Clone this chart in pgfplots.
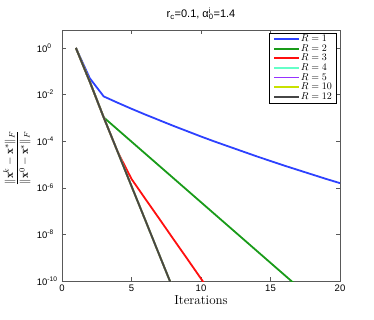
\documentclass[border=0pt]{standalone}
\usepackage{fontspec}
\usepackage{pgfplots}
\pgfplotsset{compat=1.18}
\newfontfamily\arial{Liberation Sans}
\definecolor{cR1}{RGB}{45,65,255}
\definecolor{cR2}{RGB}{25,155,25}
\definecolor{cR3}{RGB}{255,15,15}
\definecolor{cR4}{RGB}{100,255,200}
\definecolor{cR5}{RGB}{150,50,255}
\definecolor{cR10}{RGB}{200,225,0}
\definecolor{cR12}{RGB}{70,70,70}
\begin{document}
\begin{tikzpicture}
\begin{axis}[
  scale only axis, width=278pt, height=251pt,
  ymode=log, xmin=0, xmax=20, ymin=1e-10, ymax=5.89,
  xtick={0,5,10,15,20},
  xticklabels={0,5,10,15,20},
  ytick={1,1e-2,1e-4,1e-6,1e-8,1e-10},
  yticklabels={10\rlap{\textsuperscript{0}},10\rlap{\textsuperscript{-2}},10\rlap{\textsuperscript{-4}},10\rlap{\textsuperscript{-6}},10\rlap{\textsuperscript{-8}},10\rlap{\textsuperscript{-10}}},
  minor ytick={}, yminorticks=false,
  tick label style={font=\arial\fontsize{9.5}{11}\selectfont},
  yticklabel style={anchor=east, xshift=-11pt},
  tick align=inside, tickpos=both, major tick length=4pt,
  axis line style={black!65, line width=0.8pt},
  every tick/.style={black!65},
  xlabel={Iterations},
  xlabel style={font=\fontsize{13}{15}\selectfont, yshift=3pt},
  ylabel={$\displaystyle\frac{\|\mathbf{x}^k-\mathbf{x}^*\|_F}{\|\mathbf{x}^0-\mathbf{x}^*\|_F}$},
  every axis y label/.style={at={(axis description cs:-0.162,0.49)}, rotate=90, anchor=center, font=\fontsize{11}{13}\selectfont},
  title={\arial r\textsubscript{c}=0.1, α\rlap{\textsuperscript{i}}\textsubscript{0}=1.4},
  title style={font=\fontsize{11}{12}\selectfont, yshift=1pt},
  legend style={font=\fontsize{10}{10}\selectfont, draw=black, line width=0.6pt,
    inner xsep=4pt, inner ysep=1.5pt, row sep=0.3pt, at={(0.988,0.99)}, anchor=north east,
    nodes={inner sep=0.5pt}},
  legend cell align=left,
  legend image code/.code={\draw[#1, line width=1.8pt] (0pt,0pt) -- (25pt,0pt);},
  every axis plot/.append style={line width=1.8pt},
]
\addplot[cR1] coordinates {(1,1) (2,0.0501) (3,0.008318) (4,0.004467) (5,0.002455) (6,0.001380) (7,7.943e-4) (8,4.571e-4) (9,2.692e-4) (10,1.585e-4) (11,9.550e-5) (12,5.888e-5) (13,3.631e-5) (14,2.239e-5) (15,1.413e-5) (16,8.913e-6) (17,5.754e-6) (18,3.715e-6) (19,2.399e-6) (20,1.585e-6)};
\addlegendentry{$R=1$}
\addplot[cR2] coordinates {(1,1) (2,0.03548) (3,1.047e-3) (4,3.162e-4) (5,9.550e-5) (6,2.884e-5) (7,8.710e-6) (8,2.630e-6) (9,7.943e-7) (10,2.399e-7) (11,7.244e-8) (12,2.188e-8) (13,6.607e-9) (14,1.995e-9) (15,6.026e-10) (16,1.820e-10) (17,5.495e-11)};
\addlegendentry{$R=2$}
\addplot[cR3] coordinates {(1,1) (2,0.03548) (3,1.047e-3) (4,3.548e-5) (5,2.399e-6) (6,3.311e-7) (7,4.677e-8) (8,6.457e-9) (9,9.120e-10) (10,1.259e-10) (11,1.778e-11)};
\addlegendentry{$R=3$}
\addplot[cR4] coordinates {(1,1) (2,0.03548) (3,1.047e-3) (4,3.548e-5) (5,1.175e-6) (6,3.981e-8) (7,1.318e-9) (8,4.467e-11)};
\addlegendentry{$R=4$}
\addplot[cR5] coordinates {(1,1) (2,0.03548) (3,1.047e-3) (4,3.548e-5) (5,1.175e-6) (6,3.981e-8) (7,1.318e-9) (8,4.467e-11)};
\addlegendentry{$R=5$}
\addplot[cR10] coordinates {(1,1) (2,0.03548) (3,1.047e-3) (4,3.548e-5) (5,1.175e-6) (6,3.981e-8) (7,1.318e-9) (8,4.467e-11)};
\addlegendentry{$R=10$}
\addplot[cR12] coordinates {(1,1) (2,0.03548) (3,1.047e-3) (4,3.548e-5) (5,1.175e-6) (6,3.981e-8) (7,1.318e-9) (8,4.467e-11)};
\addlegendentry{$R=12$\hspace{9pt}}
\end{axis}
\pgfresetboundingbox
\path[use as bounding box] ([xshift=-62pt,yshift=-38pt]current axis.south west) rectangle ([xshift=34pt,yshift=30pt]current axis.north east);
\end{tikzpicture}
\end{document}
